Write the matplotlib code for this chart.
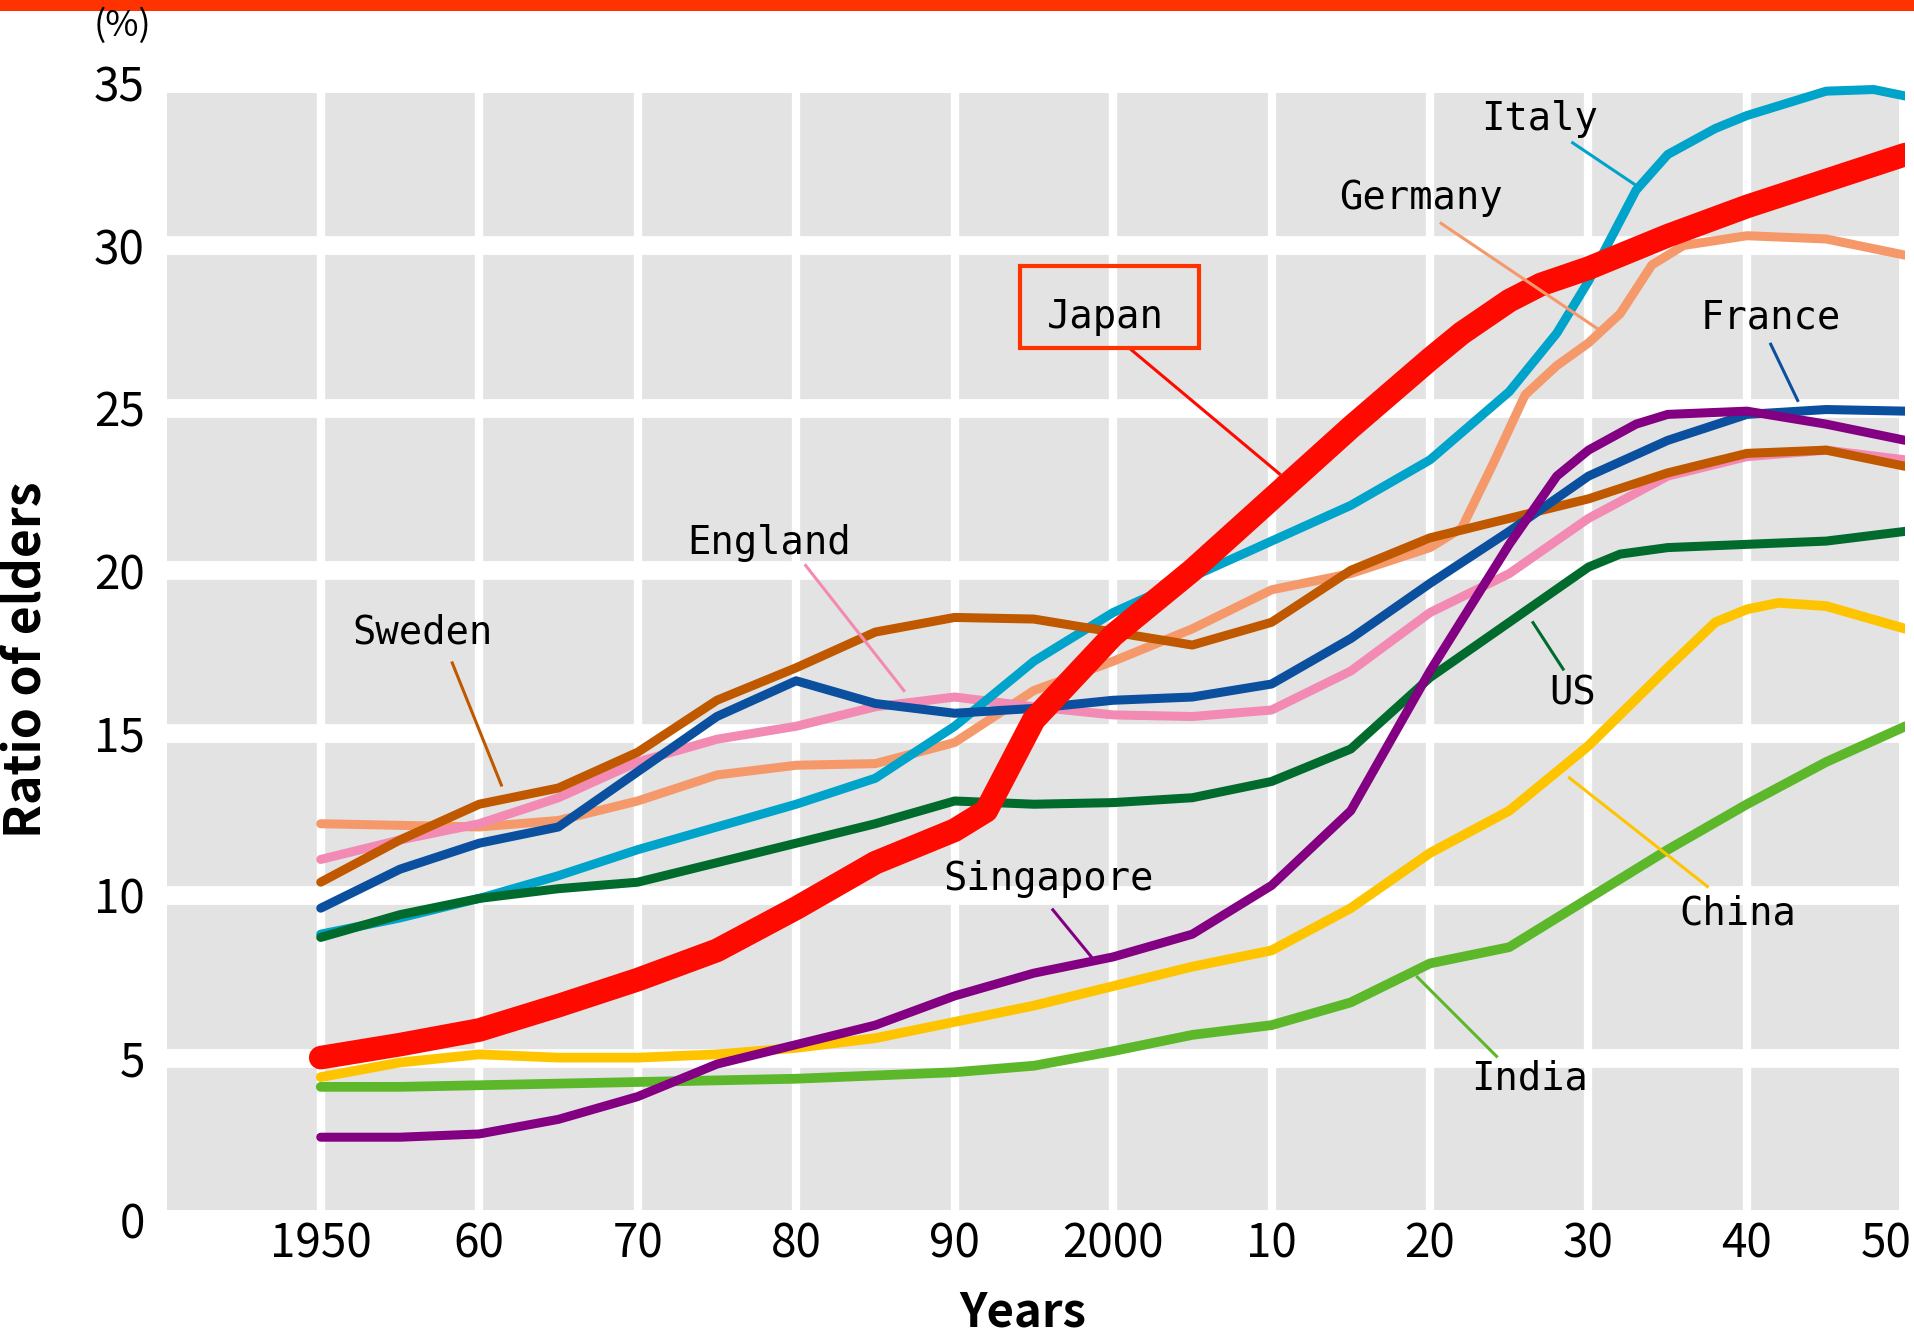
import matplotlib
matplotlib.use("Agg")
import matplotlib.pyplot as plt
from matplotlib.patches import Rectangle
from matplotlib.transforms import ScaledTranslation

plt.rcParams['font.family'] = ['Noto Sans CJK JP', 'DejaVu Sans']

# values (percent of population aged 65+)
japan_x = [1950, 1955, 1960, 1965, 1970, 1975, 1980, 1985, 1990, 1992, 1995, 2000, 2005, 2010, 2015, 2020, 2022, 2025, 2027, 2030, 2035, 2040, 2045, 2050]
japan = [5.0, 5.4, 5.85, 6.6, 7.4, 8.3, 9.6, 11.0, 12.0, 12.6, 15.4, 18.0, 20.0, 22.2, 24.4, 26.5, 27.3, 28.3, 28.8, 29.3, 30.3, 31.2, 32.0, 32.8]

italy_x = [1950, 1955, 1960, 1965, 1970, 1975, 1980, 1985, 1990, 1995, 2000, 2005, 2010, 2015, 2020, 2025, 2028, 2030, 2033, 2035, 2038, 2040, 2045, 2048, 2050]
italy = [8.8, 9.3, 9.9, 10.6, 11.4, 12.1, 12.8, 13.6, 15.2, 17.2, 18.7, 19.8, 20.9, 22.0, 23.4, 25.5, 27.3, 28.9, 31.7, 32.8, 33.6, 34.0, 34.75, 34.8, 34.6]

germany_x = [1950, 1955, 1960, 1965, 1970, 1975, 1980, 1985, 1990, 1995, 2000, 2005, 2010, 2015, 2020, 2022, 2024, 2026, 2028, 2030, 2032, 2034, 2036, 2040, 2045, 2050]
germany = [12.2, 12.15, 12.1, 12.3, 12.9, 13.7, 14.0, 14.05, 14.7, 16.3, 17.2, 18.2, 19.4, 19.9, 20.7, 21.3, 23.3, 25.4, 26.3, 27.0, 27.9, 29.4, 30.0, 30.3, 30.2, 29.7]

france_x = [1950, 1955, 1960, 1965, 1970, 1975, 1980, 1985, 1990, 1995, 2000, 2005, 2010, 2015, 2020, 2025, 2030, 2035, 2040, 2045, 2050]
france = [9.6, 10.8, 11.6, 12.1, 13.8, 15.5, 16.6, 15.9, 15.6, 15.75, 16.0, 16.1, 16.5, 17.9, 19.6, 21.2, 22.9, 24.0, 24.8, 24.95, 24.9]

england_x = [1950, 1955, 1960, 1965, 1970, 1975, 1980, 1985, 1990, 1995, 2000, 2005, 2010, 2015, 2020, 2025, 2030, 2035, 2040, 2045, 2050]
england = [11.1, 11.7, 12.2, 13.0, 14.1, 14.8, 15.2, 15.8, 16.1, 15.8, 15.55, 15.5, 15.7, 16.9, 18.7, 19.9, 21.6, 22.9, 23.5, 23.7, 23.4]

sweden_x = [1950, 1955, 1960, 1965, 1970, 1975, 1980, 1985, 1990, 1995, 2000, 2005, 2010, 2015, 2020, 2025, 2030, 2035, 2040, 2045, 2050]
sweden = [10.4, 11.7, 12.8, 13.3, 14.4, 16.0, 17.0, 18.1, 18.55, 18.5, 18.1, 17.7, 18.4, 20.0, 21.0, 21.6, 22.2, 23.0, 23.6, 23.7, 23.2]

us_x = [1950, 1955, 1960, 1965, 1970, 1975, 1980, 1985, 1990, 1995, 2000, 2005, 2010, 2015, 2020, 2025, 2030, 2032, 2035, 2040, 2045, 2050]
us = [8.7, 9.4, 9.9, 10.2, 10.4, 11.0, 11.6, 12.2, 12.9, 12.8, 12.85, 13.0, 13.5, 14.5, 16.7, 18.4, 20.1, 20.5, 20.7, 20.8, 20.9, 21.2]

singapore_x = [1950, 1955, 1960, 1965, 1970, 1975, 1980, 1985, 1990, 1995, 2000, 2005, 2010, 2015, 2020, 2025, 2028, 2030, 2033, 2035, 2040, 2045, 2050]
singapore = [2.55, 2.55, 2.65, 3.1, 3.8, 4.8, 5.4, 6.0, 6.9, 7.6, 8.1, 8.8, 10.3, 12.6, 16.9, 20.8, 22.9, 23.7, 24.5, 24.8, 24.9, 24.5, 24.0]

china_x = [1950, 1955, 1960, 1965, 1970, 1975, 1980, 1985, 1990, 1995, 2000, 2005, 2010, 2015, 2020, 2025, 2030, 2035, 2038, 2040, 2042, 2045, 2050]
china = [4.4, 4.85, 5.1, 5.0, 5.0, 5.1, 5.3, 5.6, 6.1, 6.6, 7.2, 7.8, 8.3, 9.6, 11.3, 12.6, 14.6, 17.0, 18.4, 18.8, 19.0, 18.9, 18.2]

india_x = [1950, 1955, 1960, 1965, 1970, 1975, 1980, 1985, 1990, 1995, 2000, 2005, 2010, 2015, 2020, 2025, 2030, 2035, 2040, 2045, 2050]
india = [4.1, 4.1, 4.15, 4.2, 4.25, 4.3, 4.35, 4.45, 4.55, 4.75, 5.2, 5.7, 6.0, 6.7, 7.9, 8.4, 9.9, 11.4, 12.8, 14.1, 15.2]

xticks = [1950, 1960, 1970, 1980, 1990, 2000, 2010, 2020, 2030, 2040, 2050]
xlabels = ['1950', '60', '70', '80', '90', '2000', '10', '20', '30', '40', '50']
yticks = [0, 5, 10, 15, 20, 25, 30, 35]

# drawing order: later ones on top
series = [
    ('Germany', germany_x, germany, '#f5996a', 6.5),
    ('England', england_x, england, '#f28ab3', 6.5),
    ('Italy', italy_x, italy, '#00a3c9', 6.5),
    ('Sweden', sweden_x, sweden, '#c05800', 6.5),
    ('France', france_x, france, '#0b4f9f', 6.5),
    ('US', us_x, us, '#006b2d', 6.5),
    ('China', china_x, china, '#ffc400', 7),
    ('India', india_x, india, '#5cb82a', 7),
    ('Singapore', singapore_x, singapore, '#840083', 6.5),
    ('Japan', japan_x, japan, '#ff0a00', 17),
]

# label text position, leader line start and end (data coords)
labels = {
    'Italy': ((2026.9, 33.9), (2029.0, 33.16), (2033.0, 31.85)),
    'Germany': ((2019.4, 31.47), (2020.7, 30.68), (2030.9, 27.33)),
    'Japan': ((1999.5, 27.79), (2001.0, 26.85), (2010.5, 22.97)),
    'France': ((2041.5, 27.79), (2041.5, 26.96), (2043.2, 25.23)),
    'England': ((1978.3, 20.83), (1980.6, 20.15), (1986.8, 16.3)),
    'Sweden': ((1956.4, 18.09), (1958.3, 17.15), (1961.4, 13.39)),
    'US': ((2029.0, 16.2), (2026.5, 18.39), (2028.4, 16.96)),
    'Singapore': ((1995.9, 10.49), (1996.2, 9.55), (1998.6, 8.12)),
    'China': ((2039.4, 9.44), (2028.8, 13.61), (2037.5, 10.27)),
    'India': ((2026.3, 4.36), (2019.2, 7.48), (2024.2, 5.04)),
}

gray = '#e3e3e3'

fig = plt.figure(figsize=(19.15, 13.35), dpi=100)
ax = fig.add_axes([0.0872, 0.0861, 0.9078, 0.8517])
ax.set_facecolor('white')

# gray plotting area behind the white grid
ax.add_patch(Rectangle((1940.3, 0.31), 2049.6 - 1940.3, 34.7 - 0.31,
                       facecolor=gray, edgecolor='none', zorder=0))
for x in xticks[:-1]:
    ax.axvline(x, color='white', lw=6, zorder=1)
for y in yticks[1:-1]:
    ax.axhline(y, color='white', lw=13.5, zorder=1)

for i, (name, xs, vals, color, lw) in enumerate(series):
    ax.plot(xs, vals, color=color, lw=lw, solid_capstyle='round',
            solid_joinstyle='round', zorder=3 + i)
    (tx, ty), p0, p1 = labels[name]
    ax.plot([p0[0], p1[0]], [p0[1], p1[1]], color=color, lw=2.2, zorder=14)
    ax.text(tx, ty, name, ha='center', va='center', fontsize=28,
            family=['DejaVu Sans Mono'], color='black', zorder=15)

# box around the Japan label
ax.add_patch(Rectangle((1994.1, 26.85), 11.3, 2.51, facecolor='none',
                       edgecolor='#ff3300', lw=3, zorder=15))

ax.set_xlim(1940.3, 2050)
ax.set_ylim(0, 35)
ax.set_xticks(xticks)
ax.set_xticklabels(xlabels)
ax.set_yticks(yticks)
ax.tick_params(axis='both', length=0, labelsize=33)
ax.tick_params(axis='y', pad=16)
ax.tick_params(axis='x', pad=0)
for s in ax.spines.values():
    s.set_visible(False)

# keep the last year label inside the figure
last = ax.get_xticklabels()[-1]
last.set_ha('right')
last.set_transform(last.get_transform() + ScaledTranslation(0.06, 0, fig.dpi_scale_trans))

fig.text(0.534, 0.0165, 'Years', ha='center', va='center', fontsize=34,
         fontweight='bold')
fig.text(0.001, 0.5056, 'Ratio of elders', ha='left', va='center',
         rotation=90, fontsize=36, fontweight='bold')
fig.text(0.064, 0.9805, '(%)', ha='center', va='center', fontsize=26)

# orange bar along the top edge
fig.patches.append(Rectangle((0, 0.9918), 1, 0.0082, transform=fig.transFigure,
                             facecolor='#ff3300', edgecolor='none'))

fig.savefig('out.png', dpi=100)
